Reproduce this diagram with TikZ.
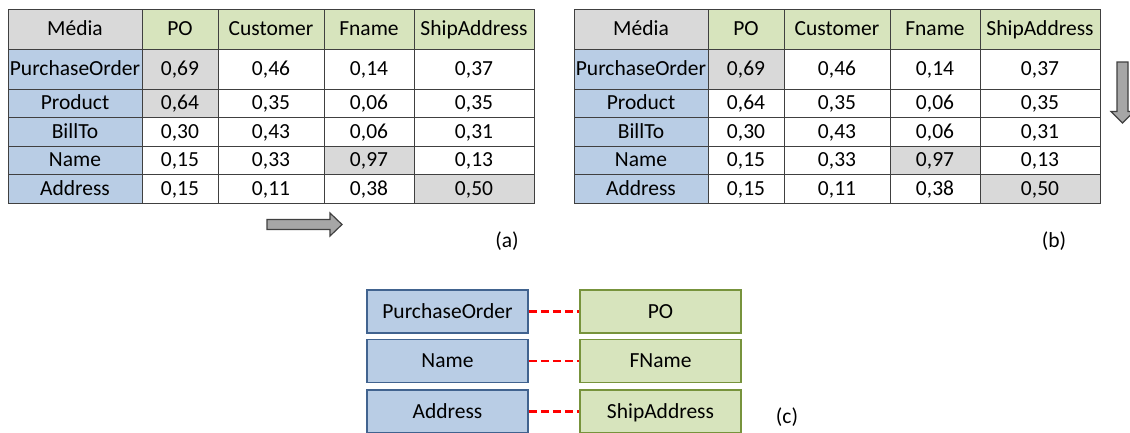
\documentclass[tikz,border=0pt]{standalone}
\usepackage{fontspec}
\setmainfont{Carlito}
\definecolor{hdrgray}{HTML}{D9D9D9}
\definecolor{hdrgreen}{HTML}{D7E4BD}
\definecolor{hdrblue}{HTML}{B9CDE5}
\definecolor{gridline}{HTML}{404040}
\definecolor{boxblueline}{HTML}{41638F}
\definecolor{boxgreenline}{HTML}{77933C}
\definecolor{arrowfill}{HTML}{A6A6A6}
\newcommand\tcell[7]{%
  \node[cell, fill=#6, minimum width={((#4)-(#2))*1pt}, minimum height={((#5)-(#3))*1pt}]
    (#1) at ({((#2)+(#4))/2},{((#3)+(#5))/2}) {#7};}
\newcommand\trow[9]{% prefix, offset, row index, y1, y2, label, v1..v3 (v4 via \rowlast)
  \tcell{#1-r#3c0}{8+#2}{#4}{142+#2}{#5}{hdrblue}{#6}%
  \tcell{#1-r#3c1}{142+#2}{#4}{218+#2}{#5}{\fa}{#7}%
  \tcell{#1-r#3c2}{218+#2}{#4}{324+#2}{#5}{white}{#8}%
  \tcell{#1-r#3c3}{324+#2}{#4}{414+#2}{#5}{\fb}{#9}%
  \tcell{#1-r#3c4}{414+#2}{#4}{534+#2}{#5}{\fc}{\rowlast}}
\newcommand\mktable[3]{% prefix, x offset, fill of the Product/PO cell
  \tcell{#1-h0}{8+#2}{9}{142+#2}{49}{hdrgray}{Média}
  \tcell{#1-h1}{142+#2}{9}{218+#2}{49}{hdrgreen}{PO}
  \tcell{#1-h2}{218+#2}{9}{324+#2}{49}{hdrgreen}{Customer}
  \tcell{#1-h3}{324+#2}{9}{414+#2}{49}{hdrgreen}{Fname}
  \tcell{#1-h4}{414+#2}{9}{534+#2}{49}{hdrgreen}{ShipAddress}
  \def\fa{hdrgray}\def\fb{white}\def\fc{white}\def\rowlast{0,37}
  \trow{#1}{#2}{1}{49}{89}{PurchaseOrder}{0,69}{0,46}{0,14}
  \def\fa{#3}\def\rowlast{0,35}
  \trow{#1}{#2}{2}{89}{117}{Product}{0,64}{0,35}{0,06}
  \def\fa{white}\def\rowlast{0,31}
  \trow{#1}{#2}{3}{117}{146}{BillTo}{0,30}{0,43}{0,06}
  \def\fb{hdrgray}\def\rowlast{0,13}
  \trow{#1}{#2}{4}{146}{174}{Name}{0,15}{0,33}{0,97}
  \def\fb{white}\def\fc{hdrgray}\def\rowlast{0,50}
  \trow{#1}{#2}{5}{174}{203}{Address}{0,15}{0,11}{0,38}
}
\begin{document}
\begin{tikzpicture}[x=1pt,y=-1pt,
  txt/.style={font=\fontsize{21.5}{24}\selectfont, text height=14pt, text depth=1pt},
  cell/.style={txt, draw=gridline, line width=0.8pt, inner sep=0pt, anchor=center},
  bigarrow/.style={draw=gridline, fill=arrowfill, line width=1.2pt, line join=miter},
  bluebox/.style={txt, draw=boxblueline, fill=hdrblue, line width=1.8pt, minimum width=161pt, minimum height=43pt, inner sep=0pt},
  greenbox/.style={txt, draw=boxgreenline, fill=hdrgreen, line width=1.8pt, minimum width=161pt, minimum height=43pt, inner sep=0pt},
  link/.style={draw=red, line width=2.5pt, dash pattern=on 8pt off 4pt},
  caption/.style={txt}]
\useasboundingbox (0,0) rectangle (1130,432);
\fill[white] (0,0) rectangle (1130,432);
\mktable{a}{0}{hdrgray}
\mktable{b}{566}{white}
% arrows
\draw[bigarrow] (267,219.5) -- (330,219.5) -- (330,213) -- (342,224.5) -- (330,236) -- (330,229.5) -- (267,229.5) -- cycle;
\draw[bigarrow] (1117,62) -- (1128,62) -- (1128,111.5) -- (1134,111.5) -- (1122.5,123) -- (1111,111.5) -- (1117,111.5) -- cycle;
\node[caption] (capa) at (507,241) {(a)};
\node[caption] (capb) at (1054,241) {(b)};
% (c)
\node[bluebox] (b1) at (447.5,311.5) {PurchaseOrder};
\node[bluebox] (b2) at (447.5,361) {Name};
\node[bluebox] (b3) at (447.5,411.5) {Address};
\node[greenbox] (g1) at (660.5,311.5) {PO};
\node[greenbox] (g2) at (660.5,361) {FName};
\node[greenbox] (g3) at (660.5,411.5) {ShipAddress};
\draw[link] (b1.east) -- (g1.west);
\draw[link] (b2.east) -- (g2.west);
\draw[link] (b3.east) -- (g3.west);
\node[caption] (capc) at (787,417) {(c)};
\end{tikzpicture}
\end{document}
